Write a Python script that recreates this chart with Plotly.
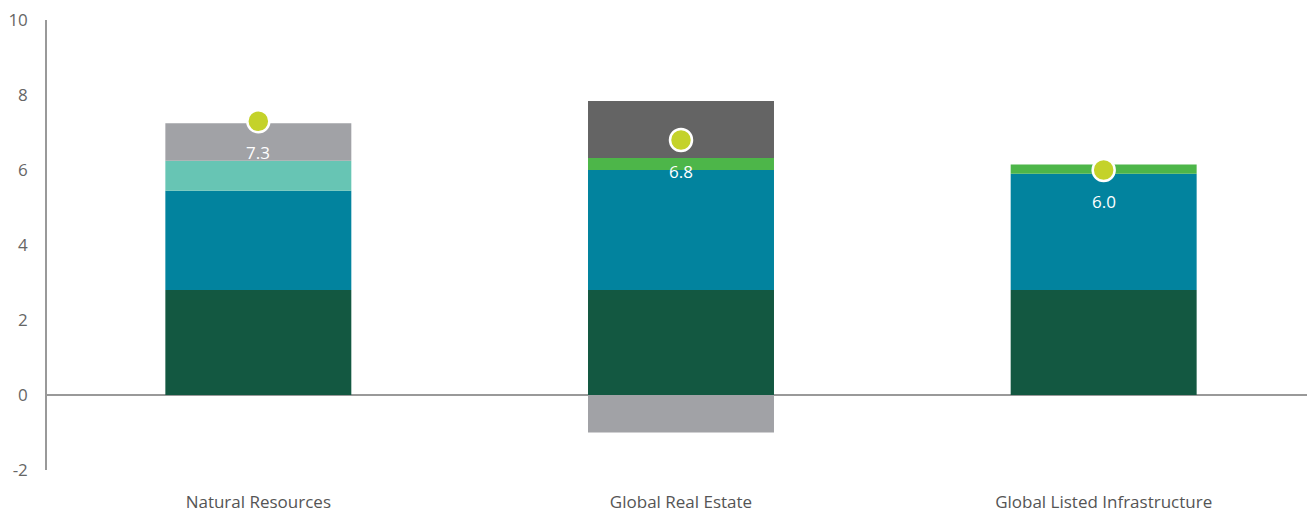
import plotly.graph_objects as go

categories = ["Natural Resources", "Global Real Estate", "Global Listed Infrastructure"]
base_yield = [2.8, 2.8, 2.8]
growth = [2.65, 3.2, 3.1]
inflation = [0.8, 0.0, 0.0]
other = [0.0, 0.32, 0.25]
valuation = [0.0, 1.52, 0.0]
drag = [1.0, -1.0, 0.0]
totals = [7.3, 6.8, 6.0]
total_labels = ["7.3", "6.8", "6.0"]
y_ticks = [-2, 0, 2, 4, 6, 8, 10]
y_tick_labels = ["-2", "0", "2", "4", "6", "8", "10"]

series = [
    ("Base", base_yield, "#135841"),
    ("Growth", growth, "#02839E"),
    ("Inflation", inflation, "#67C5B4"),
    ("Other", other, "#4DB649"),
    ("Valuation", valuation, "#646464"),
    ("Drag", drag, "#A1A2A6"),
]

fig = go.Figure()
for name, vals, color in series:
    fig.add_trace(go.Bar(x=categories, y=vals, name=name, marker_color=color,
                         marker_line_width=0, width=0.44, showlegend=False,
                         hoverinfo="skip"))

fig.add_trace(go.Scatter(x=categories, y=totals, mode="markers", showlegend=False,
                         marker=dict(size=22, color="#C4D22A",
                                     line=dict(color="white", width=2.5))))

for c, t, lab in zip(categories, totals, total_labels):
    fig.add_annotation(x=c, y=t, text=lab, showarrow=False, yshift=-31,
                       font=dict(color="white", size=17, family="Open Sans"))

fig.update_layout(
    width=1307, height=504,
    margin=dict(l=39, r=0, t=12, b=42, autoexpand=False),
    barmode="relative",
    plot_bgcolor="white", paper_bgcolor="white",
    font=dict(family="Open Sans", color="#666666", size=16),
)
fig.update_xaxes(showgrid=False, showline=False, ticks="", ticklabelstandoff=20,
                 tickfont=dict(size=17, color="#555555", family="Open Sans"))
fig.update_yaxes(range=[-2, 10], tickvals=y_ticks, ticktext=y_tick_labels,
                 showgrid=False, showline=True,
                 linecolor="#999999", linewidth=1.5, zeroline=True,
                 zerolinecolor="#999999", zerolinewidth=1.5,
                 ticks="", ticklabelstandoff=14, ticklabeloverflow="allow",
                 tickfont=dict(size=17, color="#666666", family="Open Sans"))

fig.write_html("out.html")
